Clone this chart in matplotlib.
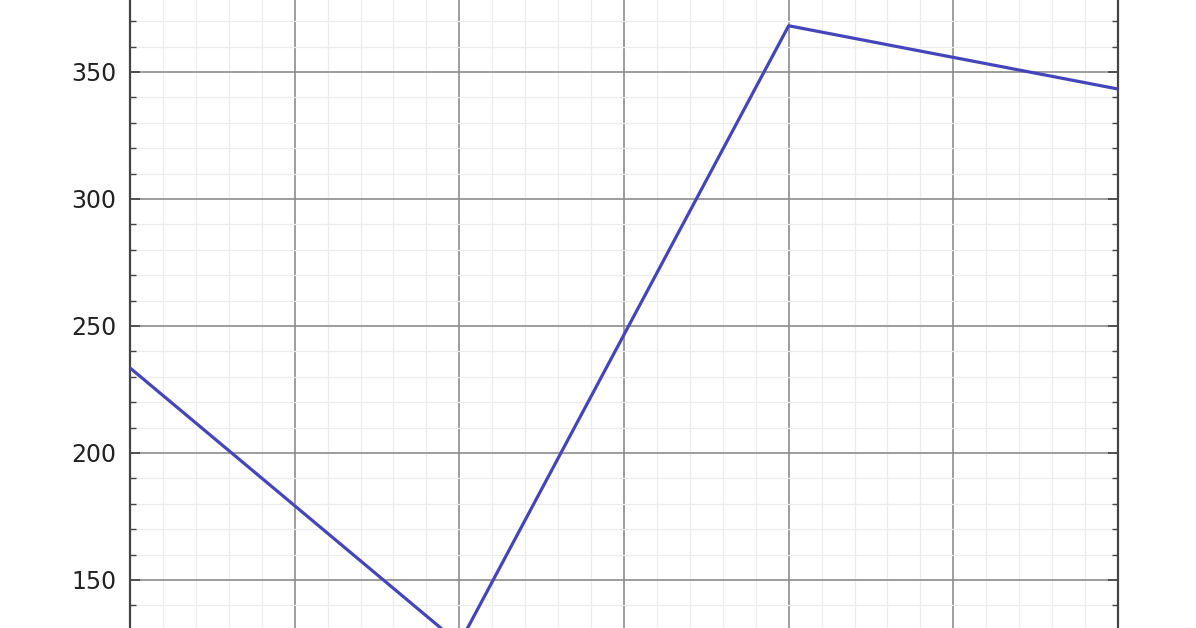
import numpy as np
import matplotlib
matplotlib.use('Agg')
import matplotlib.pyplot as plt
from matplotlib.ticker import MultipleLocator, NullFormatter

# values
x_vals = [0, 1, 2, 3]
y_vals = [233.5, 125.0, 368.2, 343.3]
y_ticks = [150, 200, 250, 300, 350]

fig = plt.figure(figsize=(11.96, 6.28), dpi=100)
# axes run past the top and bottom of the frame, like the cropped source
ax = fig.add_axes([130/1196, -0.1258, (1118-130)/1196, 1.2134])

ax.plot(x_vals, y_vals, color='#4545bb', linewidth=2.3, zorder=3)

ax.set_xlim(0, 3)
ax.xaxis.set_major_locator(MultipleLocator(0.5))
ax.xaxis.set_minor_locator(MultipleLocator(0.1))
ax.yaxis.set_minor_locator(MultipleLocator(10))
ax.set_yticks(y_ticks)
ax.set_ylim(100, 400)

ax.grid(which='major', color='#8c8c8c', linewidth=1.2)
ax.grid(which='minor', color='#ececec', linewidth=0.9)
ax.set_axisbelow(True)

for s in ax.spines.values():
    s.set_color('#444444')
    s.set_linewidth(1.6)

ax.tick_params(axis='y', which='both', direction='in', left=True, right=True,
               color='#444444', labelsize=17, labelcolor='#222222', pad=10)
ax.tick_params(axis='y', which='major', length=7, width=1.2)
ax.tick_params(axis='y', which='minor', length=4, width=1.0)
ax.tick_params(axis='x', which='both', bottom=False, top=False,
               labelbottom=False)
ax.xaxis.set_major_formatter(NullFormatter())

fig.savefig('out.png', dpi=100)
